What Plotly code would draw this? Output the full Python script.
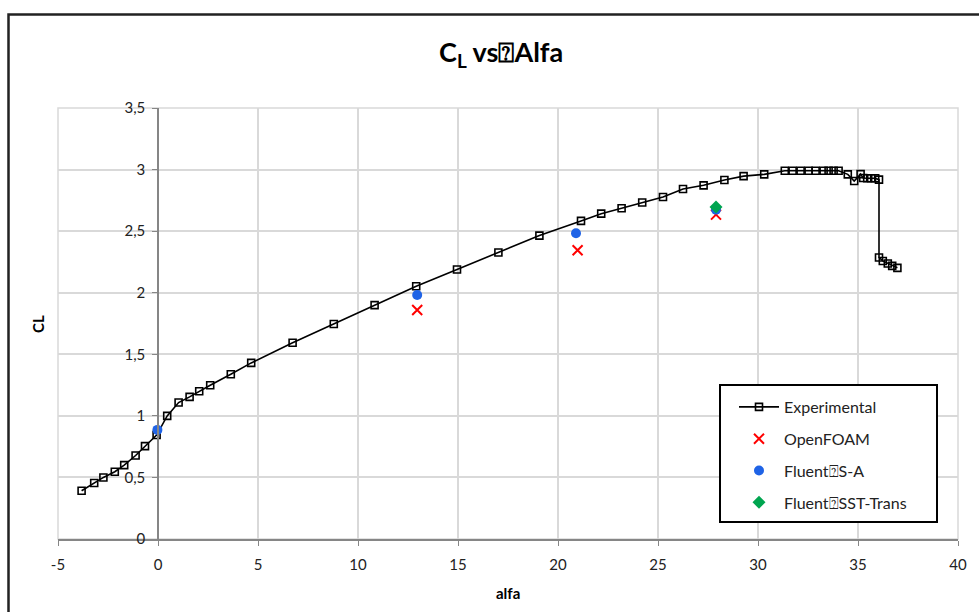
import plotly.graph_objects as go

# Experimental data
exp_alfa = [-3.82, -3.19, -2.73, -2.16, -1.69, -1.12, -0.65, -0.07, 0.46, 1.03,
            1.58, 2.06, 2.61, 3.64, 4.66, 6.73, 8.79, 10.83, 12.91, 14.95,
            17.02, 19.07, 21.15, 22.16, 23.18, 24.21, 25.25, 26.25, 27.28, 28.32,
            29.28, 30.31, 31.34, 31.73, 32.13, 32.53, 32.88, 33.28, 33.53, 33.78,
            34.03, 34.49, 34.81, 35.13, 35.26, 35.46, 35.66, 35.86, 36.05, 36.05,
            36.24, 36.49, 36.71, 36.97]
exp_cl = [0.392, 0.455, 0.500, 0.546, 0.600, 0.678, 0.754, 0.844, 1.000, 1.108,
          1.154, 1.200, 1.249, 1.338, 1.430, 1.594, 1.746, 1.899, 2.053, 2.189,
          2.327, 2.464, 2.583, 2.642, 2.686, 2.732, 2.777, 2.842, 2.872, 2.915,
          2.947, 2.961, 2.990, 2.990, 2.990, 2.990, 2.990, 2.990, 2.990, 2.990,
          2.990, 2.961, 2.907, 2.963, 2.931, 2.930, 2.930, 2.930, 2.918, 2.286,
          2.258, 2.237, 2.218, 2.202]

openfoam_alfa = [12.96, 20.98, 27.9]
openfoam_cl = [1.859, 2.345, 2.634]

sa_alfa = [-0.03, 12.96, 20.9, 27.9]
sa_cl = [0.886, 1.981, 2.483, 2.675]

sst_alfa = [27.9]
sst_cl = [2.696]

x_ticks = [-5, 0, 5, 10, 15, 20, 25, 30, 35, 40]
x_tick_labels = ["-5", "0", "5", "10", "15", "20", "25", "30", "35", "40"]
y_ticks = [0, 0.5, 1, 1.5, 2, 2.5, 3, 3.5]
y_tick_labels = ["0", "0,5", "1", "1,5", "2", "2,5", "3", "3,5"]

FONT = "Lato, 'Open Sans', sans-serif"
BOX = "\u2370"

fig = go.Figure()
fig.add_trace(go.Scatter(
    x=exp_alfa, y=exp_cl, mode="lines+markers", name="Experimental",
    line=dict(color="black", width=1.6),
    marker=dict(symbol="square-open", size=7, color="black", line=dict(width=1.6)),
    legendgroup="a"))
fig.add_trace(go.Scatter(
    x=openfoam_alfa, y=openfoam_cl, mode="markers", name="OpenFOAM",
    marker=dict(symbol="x-thin-open", size=10, color="#FF0000", line=dict(width=2, color="#FF0000")),
    legendgroup="b"))
fig.add_trace(go.Scatter(
    x=sa_alfa, y=sa_cl, mode="markers", name="Fluent" + BOX + "S-A",
    marker=dict(symbol="circle", size=10, color="#1F63E6"),
    legendgroup="c"))
fig.add_trace(go.Scatter(
    x=sst_alfa, y=sst_cl, mode="markers", name="Fluent" + BOX + "SST-Trans",
    marker=dict(symbol="diamond", size=10, color="#00A550"),
    legendgroup="d"))

W, H = 979, 612
L, R, T, B = 58, 21, 108, 73
pw = W - L - R
ph = H - T - B

def px2x(p):
    return (p - L) / pw

def py2y(p):
    return (H - B - p) / ph

fig.update_layout(
    width=W, height=H,
    margin=dict(l=L, r=R, t=T, b=B, autoexpand=False),
    paper_bgcolor="white", plot_bgcolor="white",
    font=dict(family=FONT, size=15, color="#222"),
    showlegend=True,
    legend=dict(
        x=px2x(734), y=py2y(390), xanchor="left", yanchor="top",
        borderwidth=0, bgcolor="rgba(0,0,0,0)",
        font=dict(family=FONT, size=16, color="#222"),
        traceorder="grouped", tracegroupgap=8, itemwidth=40,
    ),
    xaxis=dict(
        range=[-5, 40], tickvals=x_ticks, ticktext=x_tick_labels,
        showgrid=True, gridcolor="#D9D9D9", gridwidth=1.5,
        zeroline=False, showline=True, linecolor="#868686", linewidth=1.5,
        ticks="outside", ticklen=5, tickcolor="#868686", ticklabelstandoff=6,
        tickfont=dict(family=FONT, size=15, color="#222"),
    ),
    yaxis=dict(
        range=[0, 3.5], tickvals=y_ticks, ticktext=y_tick_labels,
        showgrid=True, gridcolor="#D9D9D9", gridwidth=1.5,
        zeroline=False, showline=True, linecolor="#868686", linewidth=1.5,
        ticks="outside", ticklen=5, tickcolor="#868686", ticklabelstandoff=4,
        anchor="free", position=5 / 45,
        tickfont=dict(family=FONT, size=15, color="#222"),
    ),
    shapes=[
        dict(type="rect", xref="paper", yref="paper", x0=0, x1=1, y0=0, y1=1,
             line=dict(color="#D9D9D9", width=1.5), layer="below"),
        dict(type="rect", xref="paper", yref="paper",
             x0=px2x(720), x1=px2x(937), y0=py2y(385), y1=py2y(522),
             line=dict(color="black", width=2), fillcolor="white", layer="above"),
        dict(type="rect", xref="paper", yref="paper",
             x0=px2x(8.5), x1=px2x(990), y0=py2y(14.5), y1=py2y(625),
             line=dict(color="#222", width=2.5), layer="above"),
    ],
    annotations=[
        dict(text="<b>C<sub>L</sub> vs" + BOX + "Alfa</b>", xref="paper", yref="paper",
             x=px2x(501), y=py2y(53), showarrow=False, xanchor="center", yanchor="middle",
             font=dict(family=FONT, size=27, color="black")),
        dict(text="<b>CL</b>", xref="paper", yref="paper", x=px2x(38), y=py2y(324),
             textangle=-90, showarrow=False, xanchor="center", yanchor="middle",
             font=dict(family=FONT, size=15, color="black")),
        dict(text="<b>alfa</b>", xref="paper", yref="paper", x=px2x(508), y=py2y(593),
             showarrow=False, xanchor="center", yanchor="middle",
             font=dict(family=FONT, size=15, color="black")),
    ],
)

fig.write_html("out.html", config={"displayModeBar": False},
               post_script="document.body.style.margin='0';document.body.style.padding='0';")
